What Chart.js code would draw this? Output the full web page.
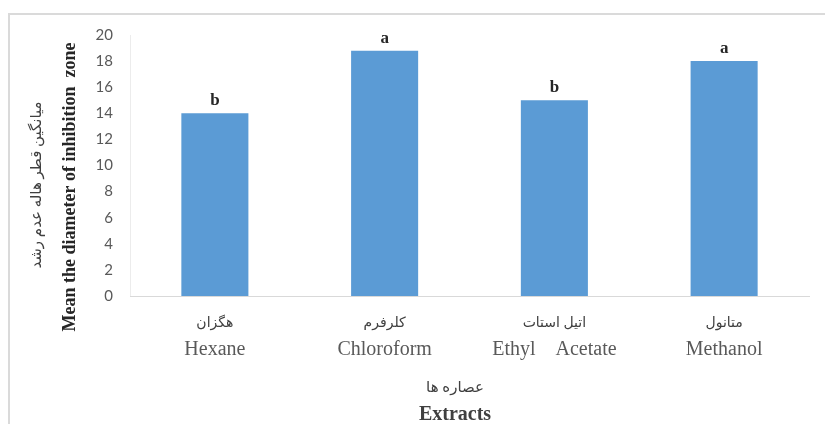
<!DOCTYPE html>
<html><head><meta charset="utf-8">
<script src="https://cdn.jsdelivr.net/npm/chart.js@4"></script>
<style>
html,body{margin:0;padding:0;background:#fff;overflow:hidden;}
#wrap{position:relative;width:825px;height:424px;overflow:hidden;}
#frame{position:absolute;left:8px;top:13px;width:900px;height:500px;border:2px solid #dadada;box-sizing:border-box;}
canvas{position:absolute;left:0;top:0;}
</style></head><body>
<div id="wrap"><div id="frame"></div><canvas id="c" width="825" height="424"></canvas></div>
<script>
const categoriesEn = ['Hexane', 'Chloroform', 'Ethyl    Acetate', 'Methanol'];
const categoriesFa = ['هگزان', 'کلرفرم', 'اتیل استات', 'متانول'];
const meanValues = [14.0, 18.8, 15.0, 18.0];
const groupLetters = ['b', 'a', 'b', 'a'];
const yTicks = [0, 2, 4, 6, 8, 10, 12, 14, 16, 18, 20];
const yTitleEn = 'Mean the diameter of inhibition  zone';
const yTitleFa = 'میانگین قطر هاله عدم رشد';
const xTitleEn = 'Extracts';
const xTitleFa = 'عصاره ها';

const extraText = {
  id: 'extraText',
  afterDraw(chart) {
    const ctx = chart.ctx;
    const xs = chart.scales.x;
    ctx.save();
    // Persian category labels
    ctx.fillStyle = '#404040';
    ctx.font = '14px "Liberation Serif", "DejaVu Sans"';
    ctx.textAlign = 'center';
    ctx.textBaseline = 'middle';
    categoriesFa.forEach((t, i) => ctx.fillText(t, xs.getPixelForValue(i), 323));
    // group letters
    ctx.fillStyle = '#262626';
    ctx.font = 'bold 17px "Liberation Serif"';
    ctx.textBaseline = 'alphabetic';
    const meta = chart.getDatasetMeta(0);
    meta.data.forEach((bar, i) => ctx.fillText(groupLetters[i], bar.x, bar.y - 8));
    // x titles
    ctx.textBaseline = 'middle';
    ctx.fillStyle = '#404040';
    ctx.font = '15px "Liberation Serif", "DejaVu Sans"';
    ctx.fillText(xTitleFa, 455, 388);
    ctx.font = 'bold 20px "Liberation Serif"';
    ctx.fillText(xTitleEn, 455, 415);
    // y titles
    ctx.translate(70, 187);
    ctx.rotate(-Math.PI / 2);
    ctx.font = 'bold 18px "Liberation Serif"';
    ctx.fillStyle = '#262626';
    ctx.fillText(yTitleEn, 0, 0);
    ctx.rotate(Math.PI / 2);
    ctx.translate(-33, -2);
    ctx.rotate(-Math.PI / 2);
    ctx.font = '15px "Liberation Serif", "DejaVu Sans"';
    ctx.fillStyle = '#404040';
    ctx.fillText(yTitleFa, 0, 0);
    ctx.restore();
  }
};

new Chart(document.getElementById('c'), {
  type: 'bar',
  data: {
    labels: categoriesEn,
    datasets: [{
      data: meanValues,
      backgroundColor: '#5b9bd5',
      borderWidth: 0,
      categoryPercentage: 1,
      barPercentage: 0.395
    }]
  },
  options: {
    responsive: false,
    animation: false,
    devicePixelRatio: 1,
    layout: { padding: { top: 35, right: 16, left: 0, bottom: 0 } },
    plugins: { legend: { display: false }, tooltip: { enabled: false } },
    scales: {
      y: {
        min: 0, max: 20,
        afterFit(s) { s.width = 130; },
        afterBuildTicks(s) { s.ticks = yTicks.map(v => ({ value: v })); },
        grid: { display: false, drawTicks: false },
        border: { display: true, color: '#ececec', width: 1 },
        ticks: { padding: 17, color: '#595959', font: { family: 'Lato', size: 15 } }
      },
      x: {
        afterFit(s) { s.height = 128; },
        grid: { display: false, drawTicks: false },
        border: { display: true, color: '#d9d9d9', width: 1 },
        ticks: {
          padding: 42, color: '#595959', maxRotation: 0, autoSkip: false,
          font: { family: '"Liberation Serif"', size: 20 }
        }
      }
    }
  },
  plugins: [extraText]
});
</script>
</body></html>
